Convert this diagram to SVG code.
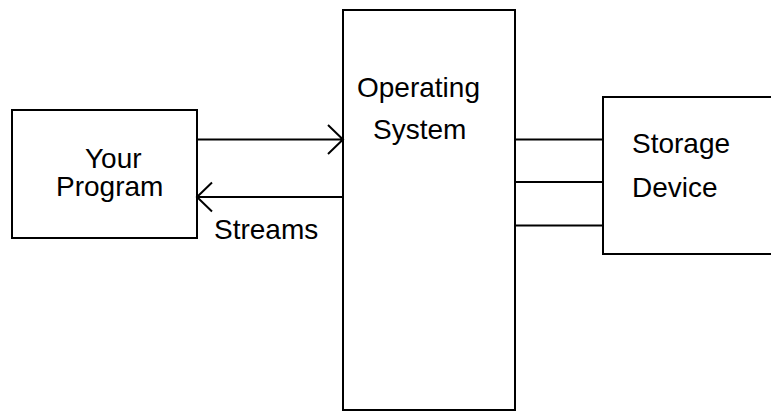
<svg xmlns="http://www.w3.org/2000/svg" width="771" height="412" viewBox="0 0 771 412">
<style>
.box{fill:#fff;stroke:#000;stroke-width:2}
.ln{fill:none;stroke:#000;stroke-width:2}
text{font-family:"Liberation Sans",Arial,sans-serif;font-size:28px;fill:#000}
</style>
<rect width="771" height="412" fill="#fff"/>
<g id="your-program">
<rect class="box" x="12" y="110" width="185" height="128"/>
<text x="85" y="168">Your</text>
<text x="56" y="196">Program</text>
</g>
<g id="operating-system">
<rect class="box" x="343" y="10" width="172" height="400"/>
<text x="357" y="97">Operating</text>
<text x="373" y="139">System</text>
</g>
<g id="storage-device">
<rect class="box" x="603" y="97" width="180" height="157"/>
<text x="632" y="153">Storage</text>
<text x="632" y="197">Device</text>
</g>
<g id="connectors">
<path class="ln" d="M197 139.5H343M328 125L343 139.5L328 154"/>
<path class="ln" d="M343 197H197M212 182.5L197 197L212 211.5"/>
<text x="214" y="239">Streams</text>
<path class="ln" d="M515 139.5H603M515 182H603M515 225.5H603"/>
</g>
</svg>
